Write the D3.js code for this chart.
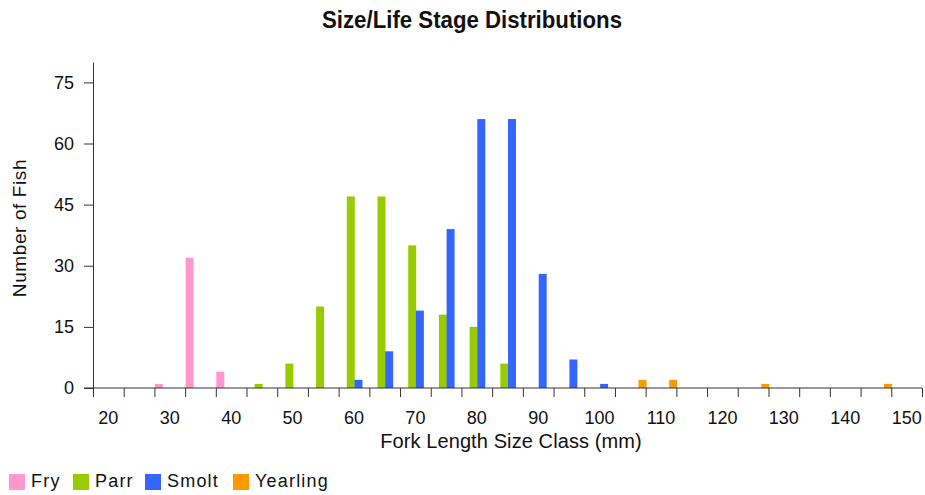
<!DOCTYPE html>
<html>
<head>
<meta charset="utf-8">
<script src="https://cdn.jsdelivr.net/npm/d3@7"></script>
<style>
  body { margin: 0; background: #fff; }
  svg { display: block; }
</style>
</head>
<body>
<script>
// size classes (mm)
const sizeClasses = [20, 25, 30, 35, 40, 45, 50, 55, 60, 65, 70, 75, 80, 85, 90, 95, 100, 105, 110, 115, 120, 125, 130, 135, 140, 145, 150];
const stages = ["Fry", "Parr", "Smolt", "Yearling"];
const fry      = [0, 0, 1, 32, 4, 0, 0, 0, 0, 0, 0, 0, 0, 0, 0, 0, 0, 0, 0, 0, 0, 0, 0, 0, 0, 0, 0];
const parr     = [0, 0, 0, 0, 0, 1, 6, 20, 47, 47, 35, 18, 15, 6, 0, 0, 0, 0, 0, 0, 0, 0, 0, 0, 0, 0, 0];
const smolt    = [0, 0, 0, 0, 0, 0, 0, 0, 2, 9, 19, 39, 66, 66, 28, 7, 1, 0, 0, 0, 0, 0, 0, 0, 0, 0, 0];
const yearling = [0, 0, 0, 0, 0, 0, 0, 0, 0, 0, 0, 0, 0, 0, 0, 0, 0, 2, 2, 0, 0, 1, 0, 0, 0, 1, 0];
const xLabels = [20, 30, 40, 50, 60, 70, 80, 90, 100, 110, 120, 130, 140, 150];
const yTicks = [0, 15, 30, 45, 60, 75];
const colors = ["#ff99cc", "#99cc00", "#3366ff", "#ff9900"];

const svgWidth = 925;
const svgHeight = 495;
const margin = {top: 62, right: 3, bottom: 107, left: 93};
const chartWidth = svgWidth - margin.left - margin.right;
const chartHeight = svgHeight - margin.top - margin.bottom;

const seriesValues = [fry, parr, smolt, yearling];

const svg = d3.select("body").append("svg")
    .attr("width", svgWidth)
    .attr("height", svgHeight);

const g = svg.append("g")
    .attr("transform", `translate(${margin.left}, ${margin.top})`);

const scaleX = d3.scaleBand()
    .domain(sizeClasses)
    .range([0, chartWidth])
    .padding(0);

const scaleSub = d3.scaleBand()
    .domain(stages)
    .range([0, scaleX.bandwidth()])
    .padding(0);

const scaleY = d3.scaleLinear()
    .domain([0, 80])
    .range([chartHeight, 0]);

// bars
stages.forEach((s, i) => {
    const vals = sizeClasses.map((c, j) => ({c: c, v: seriesValues[i][j]}));
    g.append("g")
        .selectAll("rect")
        .data(vals.filter(d => d.v > 0))
        .join("rect")
        .attr("x", d => scaleX(d.c) + scaleSub(s) + 0.5)
        .attr("y", d => scaleY(d.v))
        .attr("width", scaleSub.bandwidth() + 0.3)
        .attr("height", d => chartHeight - scaleY(d.v))
        .attr("fill", colors[i]);
});

// y axis
g.append("g")
    .call(d3.axisLeft(scaleY).tickValues(yTicks).tickSize(9).tickPadding(10).tickSizeOuter(0))
    .call(a => a.select(".domain").attr("stroke", "#333"))
    .call(a => a.selectAll(".tick line").attr("stroke", "#333"))
    .call(a => a.selectAll(".tick text")
        .attr("font-family", "'Liberation Sans', Arial, sans-serif")
        .attr("font-size", 18)
        .attr("fill", "#111"));

// x axis: tick marks on class boundaries
const edgeX = d3.scaleLinear()
    .domain([0, sizeClasses.length])
    .range([0, chartWidth]);

g.append("g")
    .attr("transform", `translate(0, ${chartHeight})`)
    .call(d3.axisBottom(edgeX).tickValues(d3.range(0, sizeClasses.length + 1)).tickSize(9).tickFormat(""))
    .call(a => a.select(".domain").remove())
    .call(a => a.selectAll(".tick line").attr("stroke", "#333"));

g.append("line")
    .attr("x1", -9)
    .attr("x2", chartWidth)
    .attr("y1", chartHeight)
    .attr("y2", chartHeight)
    .attr("stroke", "#333");

g.append("g")
    .attr("transform", `translate(0, ${chartHeight})`)
    .call(d3.axisBottom(scaleX).tickValues(xLabels).tickSize(0).tickPadding(23))
    .call(a => a.select(".domain").remove())
    .call(a => a.selectAll(".tick text")
        .attr("font-family", "'Liberation Sans', Arial, sans-serif")
        .attr("font-size", 18)
        .attr("fill", "#111"));

// titles
svg.append("text")
    .attr("x", 472)
    .attr("y", 28)
    .attr("text-anchor", "middle")
    .attr("font-family", "'Liberation Sans', Arial, sans-serif")
    .attr("font-size", 24)
    .attr("font-weight", "bold")
    .attr("textLength", 300)
    .attr("lengthAdjust", "spacingAndGlyphs")
    .attr("fill", "#111")
    .text("Size/Life Stage Distributions");

svg.append("text")
    .attr("x", 511)
    .attr("y", 448)
    .attr("text-anchor", "middle")
    .attr("font-family", "'Liberation Sans', Arial, sans-serif")
    .attr("font-size", 20)
    .attr("letter-spacing", 0.1)
    .attr("fill", "#111")
    .text("Fork Length Size Class (mm)");

svg.append("text")
    .attr("transform", "translate(26, 228) rotate(-90)")
    .attr("text-anchor", "middle")
    .attr("font-family", "'Liberation Sans', Arial, sans-serif")
    .attr("font-size", 19)
    .attr("letter-spacing", 0.6)
    .attr("fill", "#111")
    .text("Number of Fish");

// legend
const legendX = [9, 73, 145, 233];
const legend = svg.append("g");
stages.forEach((s, i) => {
    legend.append("rect")
        .attr("x", legendX[i])
        .attr("y", 474)
        .attr("width", 16)
        .attr("height", 16)
        .attr("fill", colors[i]);
    legend.append("text")
        .attr("x", legendX[i] + 22)
        .attr("y", 487)
        .attr("font-family", "'Liberation Sans', Arial, sans-serif")
        .attr("font-size", 18)
        .attr("letter-spacing", 1.2)
        .attr("fill", "#111")
        .text(s);
});
</script>
</body>
</html>
